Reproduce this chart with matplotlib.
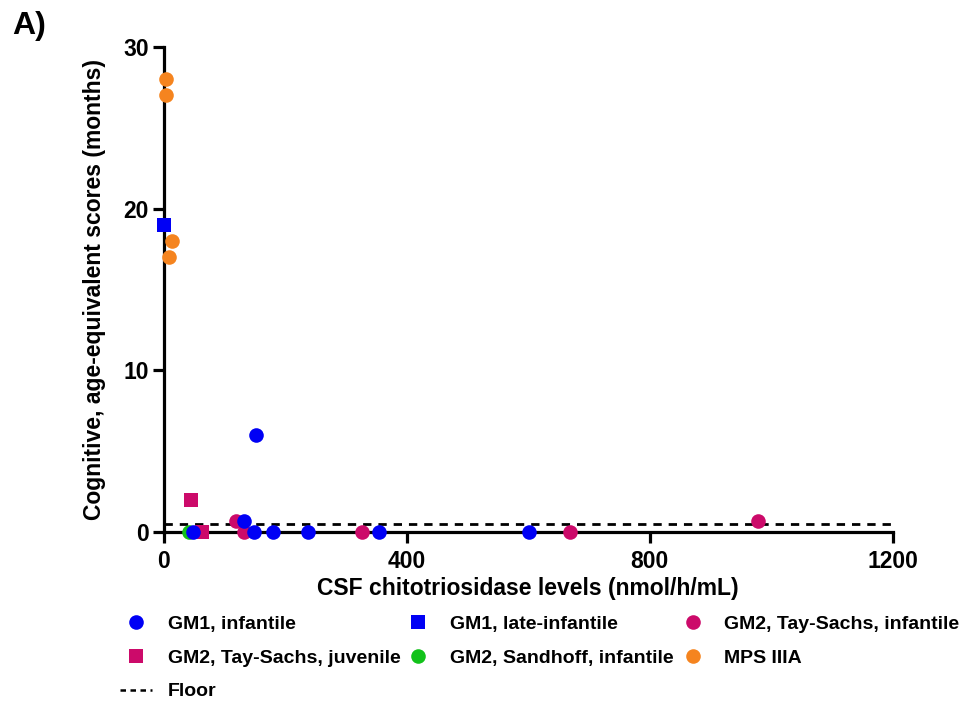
import matplotlib
matplotlib.use("Agg")
import matplotlib.pyplot as plt
from matplotlib.lines import Line2D

plt.rcParams['font.family'] = ['Liberation Sans', 'DejaVu Sans']
plt.rcParams['font.weight'] = 'bold'

# CSF chitotriosidase (nmol/h/mL) vs cognitive age-equivalent score (months)
gm1_inf_x = [48, 132, 149, 151, 180, 238, 354, 602]
gm1_inf_y = [0, 0.7, 0, 6, 0, 0, 0, 0]

gm1_late_x = [0]
gm1_late_y = [19]

ts_inf_x = [118, 132, 326, 669, 978]
ts_inf_y = [0.7, 0, 0, 0, 0.7]

ts_juv_x = [44, 62]
ts_juv_y = [2, 0]

sandhoff_x = [42]
sandhoff_y = [0]

mps_x = [3, 3, 13, 8]
mps_y = [28, 27, 18, 17]

floor_x = [0, 1200]
floor_y = [0.5, 0.5]

x_ticks = [0, 400, 800, 1200]
y_ticks = [0, 10, 20, 30]

BLUE = '#0000F5'
MAGENTA = '#CC0A6A'
GREEN = '#12C21A'
ORANGE = '#F5841F'

fig = plt.figure(figsize=(9.64, 7.04), dpi=100)
ax = fig.add_axes([0.170, 0.2443, 0.756, 0.689])

ms = 10.5
common = dict(linestyle='none', clip_on=False, markeredgewidth=0)
ax.plot(floor_x, floor_y, color='black', linestyle=(0, (3, 2.5)), linewidth=2, zorder=2)
ax.plot(sandhoff_x, sandhoff_y, marker='o', color=GREEN, markersize=ms, zorder=3, **common)
ax.plot(ts_inf_x, ts_inf_y, marker='o', color=MAGENTA, markersize=ms, zorder=4, **common)
ax.plot(ts_juv_x, ts_juv_y, marker='s', color=MAGENTA, markersize=ms - 0.5, zorder=4, **common)
ax.plot(mps_x, mps_y, marker='o', color=ORANGE, markersize=ms, zorder=5, **common)
ax.plot(gm1_inf_x, gm1_inf_y, marker='o', color=BLUE, markersize=ms, zorder=6, **common)
ax.plot(gm1_late_x, gm1_late_y, marker='s', color=BLUE, markersize=ms - 0.5, zorder=6, **common)

ax.set_xlim(0, 1200)
ax.set_ylim(0, 30)
ax.set_xticks(x_ticks)
ax.set_yticks(y_ticks)
for s in ['top', 'right']:
    ax.spines[s].set_visible(False)
for s in ['left', 'bottom']:
    ax.spines[s].set_linewidth(2.3)
ax.tick_params(axis='both', which='major', direction='out', length=8, width=2.3,
               labelsize=16.5, pad=3)
ax.tick_params(axis='x', pad=5)
for lab in ax.get_xticklabels() + ax.get_yticklabels():
    lab.set_fontweight('bold')

ax.set_xlabel('CSF chitotriosidase levels (nmol/h/mL)', fontsize=16.5, fontweight='bold', labelpad=3)
ax.set_ylabel('Cognitive, age-equivalent scores (months)', fontsize=16.5, fontweight='bold', labelpad=12)

fig.text(0.013, 0.985, 'A)', fontsize=23, fontweight='bold', va='top', ha='left')

# legend: three columns placed side by side
def mk(marker, color, size=ms):
    return Line2D([], [], marker=marker, color=color, linestyle='none', markersize=size, markeredgewidth=0)

columns = [
    (0.1245, [mk('o', BLUE), mk('s', MAGENTA, ms - 1),
              Line2D([], [], color='black', linestyle=(0, (2.2, 1.8)), linewidth=1.8)],
     ['GM1, infantile', 'GM2, Tay-Sachs, juvenile', 'Floor']),
    (0.417, [mk('s', BLUE, ms - 1), mk('o', GREEN)],
     ['GM1, late-infantile', 'GM2, Sandhoff, infantile']),
    (0.702, [mk('o', MAGENTA), mk('o', ORANGE)],
     ['GM2, Tay-Sachs, infantile', 'MPS IIIA']),
]
for x0, hs, ls in columns:
    leg = fig.legend(hs, ls, loc='upper left', bbox_to_anchor=(x0, 0.126),
                     frameon=False, fontsize=14, handlelength=1.65, handletextpad=0.8,
                     labelspacing=0.83, borderaxespad=0, borderpad=0)
    for t in leg.get_texts():
        t.set_fontweight('bold')

fig.savefig('out.png', dpi=100)
